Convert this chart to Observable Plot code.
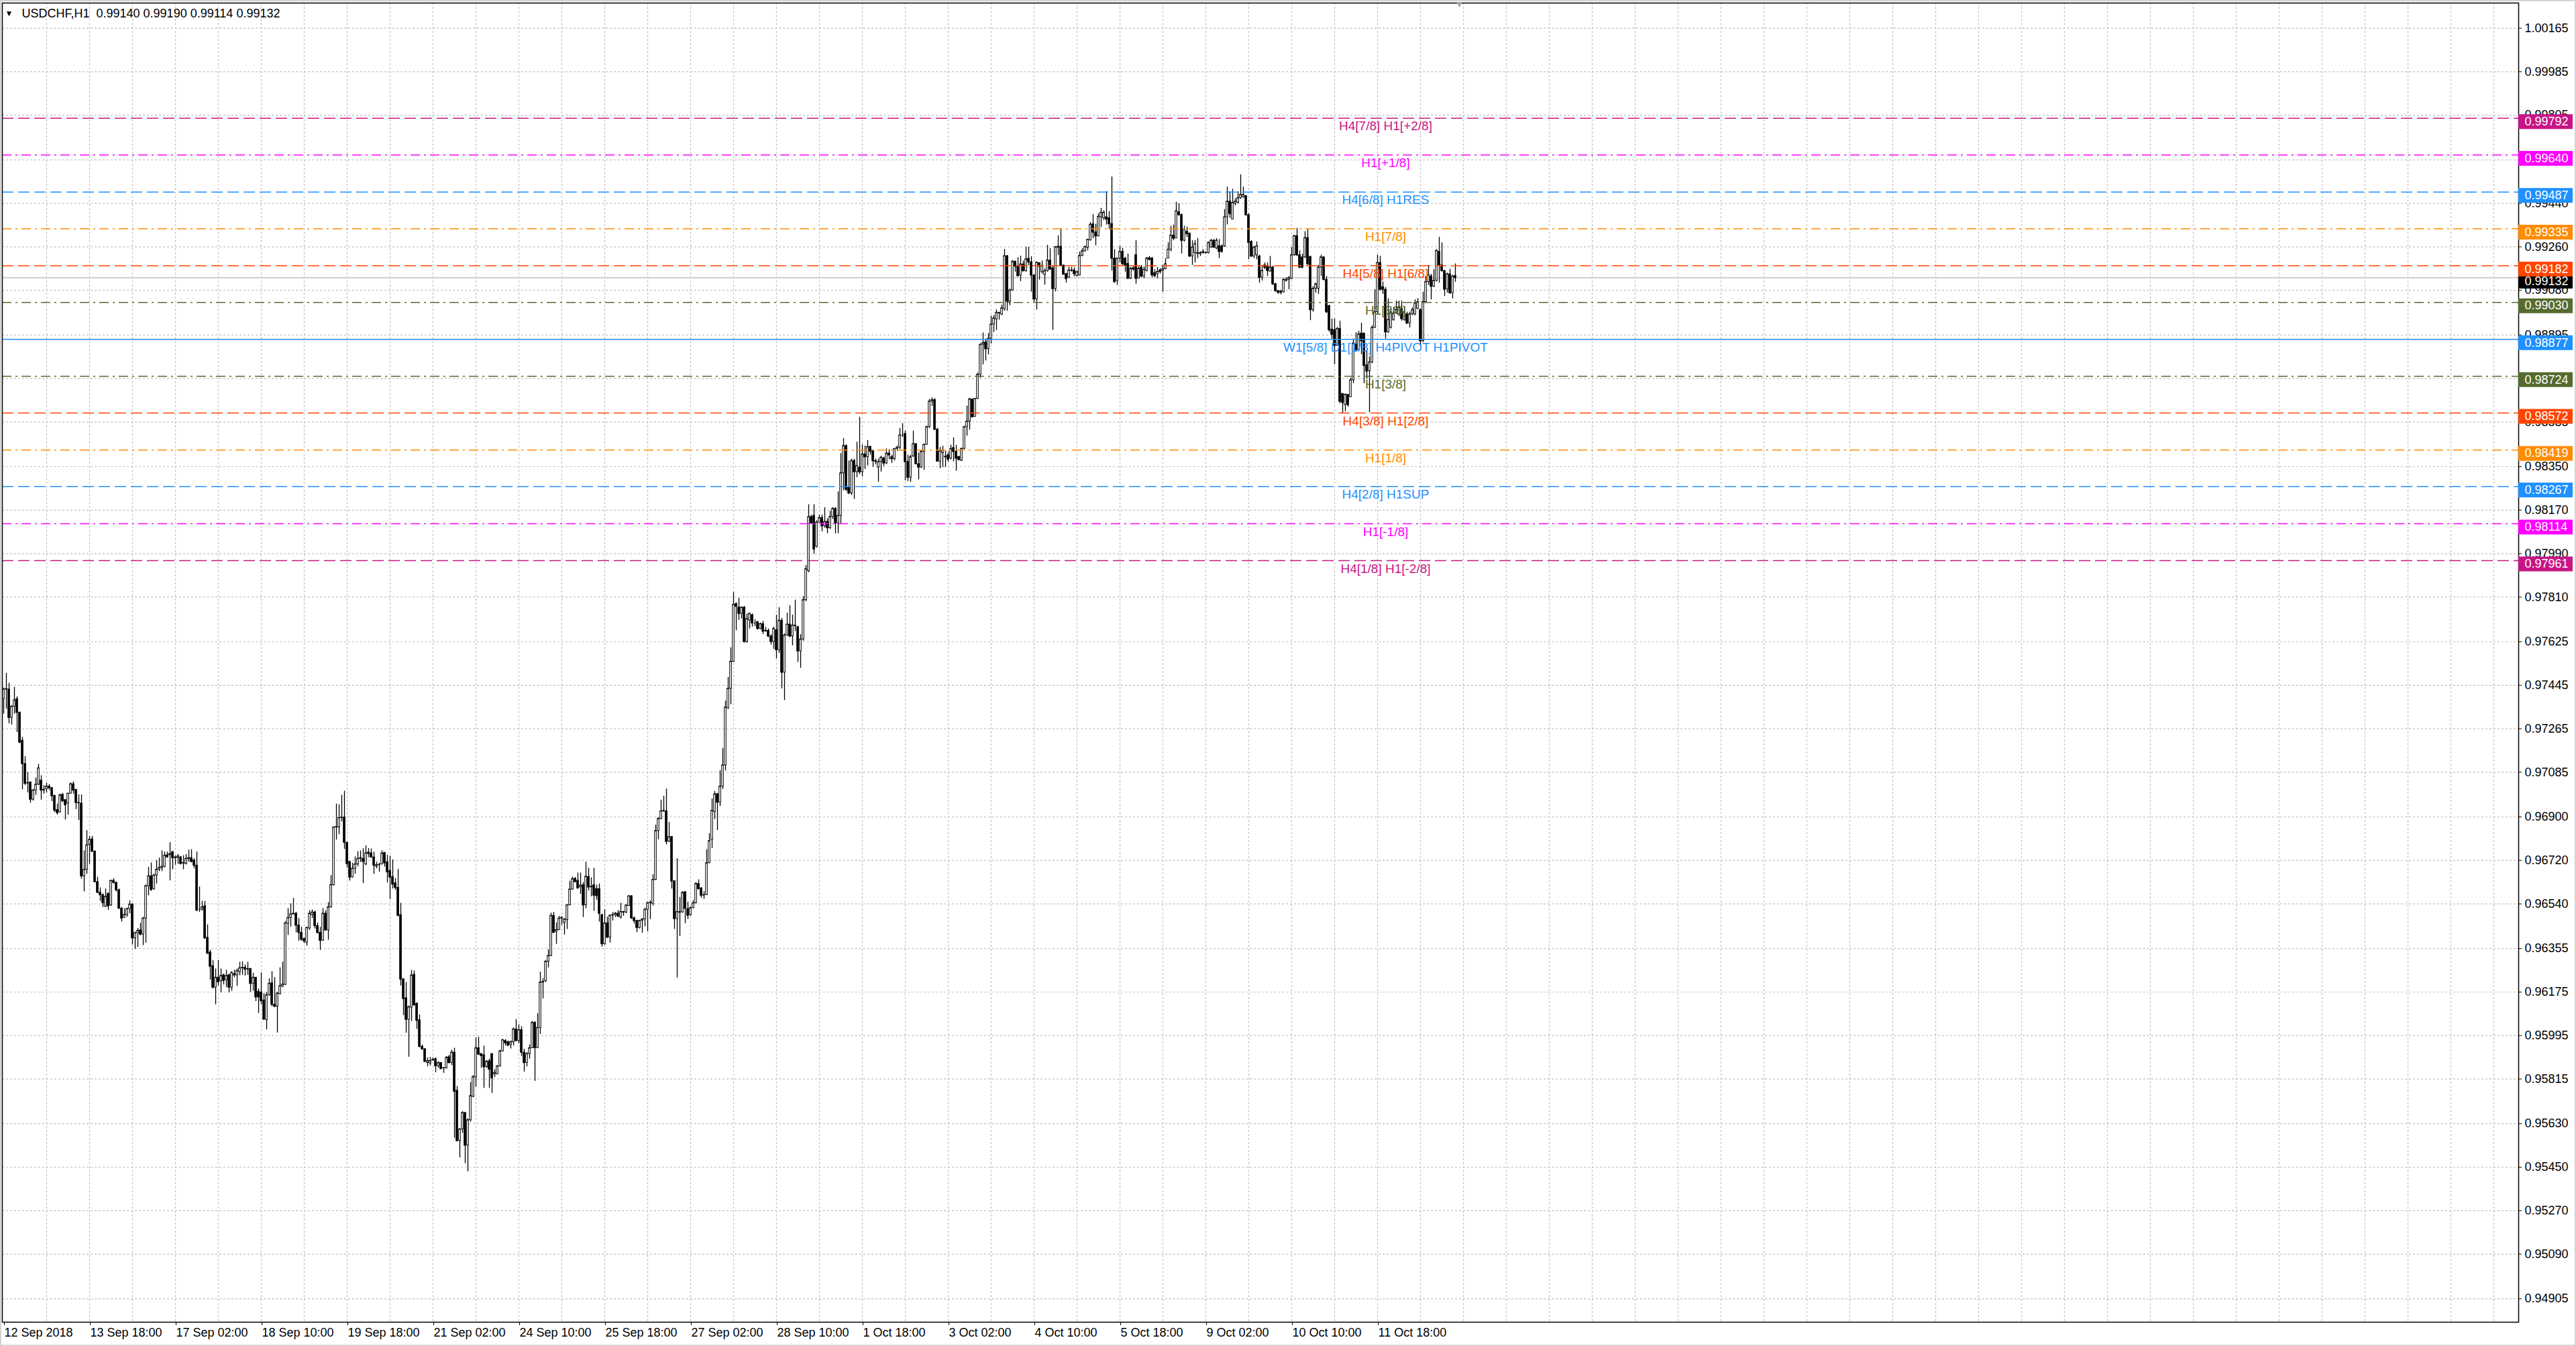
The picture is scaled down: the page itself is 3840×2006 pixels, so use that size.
<!DOCTYPE html>
<html><head><meta charset="utf-8">
<script src="https://cdn.jsdelivr.net/npm/d3@7"></script>
<script src="https://cdn.jsdelivr.net/npm/@observablehq/plot@0.6"></script>
<style>
html,body{margin:0;padding:0;background:#fff;overflow:hidden}
#chart svg{display:block;outline:2px solid #d4d4d4;outline-offset:-2px}
</style>
</head><body><div id="chart"></div>
<script>
const symbol = "USDCHF,H1";
// Hourly candles, prices in points (price x 100000), first bar 12 Sep 2018 10:00
const openPts = [
97388,97428,97428,97311,97357,97388,97332,97216,97120,97041,
97043,96972,97010,97034,97051,97010,97015,97026,97020,96988,
96929,96919,96992,96970,96956,96997,97036,97013,96959,96956,
96655,96682,96784,96808,96757,96631,96587,96577,96529,96582,
96534,96636,96628,96597,96521,96483,96495,96519,96538,96398,
96419,96431,96414,96480,96614,96655,96602,96658,96682,96689,
96694,96742,96742,96755,96730,96730,96733,96708,96706,96726,
96730,96720,96699,96518,96516,96531,96400,96339,96283,96194,
96235,96220,96245,96225,96245,96194,96250,96245,96258,96274,
96276,96269,96271,96210,96235,96177,96174,96141,96060,96162,
96212,96123,96115,96167,96199,96205,96458,96482,96497,96500,
96451,96421,96395,96380,96439,96495,96505,96449,96421,96388,
96500,96431,96526,96618,96857,96857,96896,96898,96794,96714,
96650,96686,96704,96727,96727,96704,96753,96750,96733,96695,
96701,96704,96752,96713,96677,96652,96626,96607,96494,96228,
96150,96061,96111,96247,96127,96059,95949,95939,95882,95880,
95893,95898,95869,95882,95860,95860,95906,95882,95925,95767,
95559,95607,95675,95540,95645,95742,95823,95943,95919,95914,
95865,95889,95919,95835,95835,95868,95930,95973,95968,95957,
95968,96021,95973,96018,95925,95882,95919,95943,96048,95944,
96027,96215,96220,96301,96325,96491,96425,96432,96480,96462,
96473,96535,96600,96644,96636,96609,96618,96535,96652,96609,
96618,96602,96602,96494,96374,96460,96401,96492,96494,96500,
96484,96507,96505,96532,96572,96481,96470,96441,96470,96476,
96516,96543,96541,96640,96842,96892,96924,96924,96798,96817,
96634,96478,96507,96505,96589,96519,96494,96523,96543,96623,
96605,96577,96577,96709,96805,96921,96995,96960,97026,97114,
97350,97431,97543,97782,97767,97741,97767,97625,97714,97736,
97702,97707,97679,97699,97668,97671,97648,97625,97674,97591,
97713,97498,97652,97697,97648,97693,97686,97586,97635,97798,
97918,98142,98147,98019,98119,98138,98104,98122,98096,98142,
98176,98116,98147,98323,98436,98263,98240,98374,98328,98347,
98328,98401,98390,98432,98416,98374,98347,98370,98385,98364,
98405,98390,98382,98424,98429,98480,98486,98370,98305,98393,
98444,98361,98347,98412,98441,98514,98620,98626,98504,98372,
98407,98392,98398,98384,98428,98412,98391,98375,98424,98514,
98537,98629,98557,98631,98731,98855,98865,98837,98880,98939,
98960,98985,98980,99003,99222,99034,99080,99199,99179,99142,
99188,99160,99211,99197,99142,99043,99193,99156,99145,99160,
99204,99172,99086,99257,99261,99183,99148,99133,99163,99163,
99140,99142,99223,99242,99257,99287,99354,99320,99304,99383,
99379,99383,99379,99355,99212,99119,99212,99240,99212,99190,
99129,99172,99226,99129,99175,99138,99161,99214,99212,99152,
99147,99163,99161,99168,99212,99249,99307,99295,99404,99392,
99286,99323,99316,99221,99235,99231,99231,99235,99235,99235,
99258,99286,99254,99263,99263,99263,99383,99448,99374,99439,
99443,99462,99466,99471,99392,99281,99221,99226,99221,99133,
99184,99180,99158,99175,99106,99078,99075,99073,99119,99124,
99129,99226,99305,99226,99217,99217,99297,99219,98999,99087,
99087,99175,99217,99124,99016,98918,98916,98851,98921,98652,
98606,98648,98638,98708,98856,98833,98902,98902,98770,98745,
98782,98925,98990,99194,99094,99083,98907,98925,98958,98985,
98981,99004,98958,98981,98944,98981,98981,99004,98999,98870,
99032,99115,99138,99096,99120,99240,99184,99161,99084,99147,
99069,99140];
const highPts = [
97434,97495,97454,97362,97437,97398,97335,97230,97150,97085,
97046,97015,97061,97118,97071,97030,97041,97035,97022,96990,
96954,96995,96998,96973,96997,97041,97046,97013,96992,96992,
96760,96844,96820,96820,96760,96651,96607,96582,96602,96587,
96638,96645,96631,96602,96526,96521,96523,96553,96541,96424,
96439,96460,96485,96618,96692,96710,96663,96720,96730,96760,
96755,96755,96794,96757,96740,96745,96737,96740,96745,96763,
96765,96727,96755,96610,96551,96551,96454,96349,96306,96271,
96306,96271,96250,96266,96250,96260,96266,96271,96299,96301,
96288,96299,96274,96253,96235,96189,96255,96169,96174,96230,
96260,96235,96174,96276,96299,96468,96521,96541,96563,96505,
96480,96444,96400,96444,96513,96515,96511,96461,96444,96521,
96511,96546,96658,96859,96954,96951,96990,97007,96794,96716,
96709,96735,96757,96760,96769,96781,96770,96768,96755,96713,
96709,96760,96752,96742,96738,96723,96645,96683,96543,96231,
96215,96118,96265,96263,96132,96081,95957,95941,95903,95905,
95903,95903,95887,95882,95862,95909,95914,95935,95943,95785,
95610,95681,95677,95651,95801,95830,95986,95989,95921,95952,
95893,95898,95919,95854,95871,95935,95980,95979,95973,95973,
96027,96062,96040,96032,95939,95925,95957,96054,96053,96086,
96258,96231,96306,96351,96502,96505,96462,96489,96487,96480,
96537,96634,96652,96650,96668,96668,96629,96713,96688,96648,
96688,96618,96623,96498,96516,96486,96494,96505,96505,96513,
96543,96510,96537,96575,96575,96487,96473,96473,96480,96523,
96548,96554,96661,96867,96897,96970,96986,97016,96878,96820,
96637,96728,96567,96591,96591,96548,96527,96554,96629,96640,
96607,96591,96765,96831,96975,97006,96998,97092,97184,97380,
97478,97601,97830,97787,97805,97770,97772,97741,97745,97741,
97717,97710,97703,97710,97685,97679,97655,97686,97736,97767,
97722,97659,97744,97775,97736,97798,97690,97655,97813,97941,
98193,98150,98193,98127,98150,98150,98181,98135,98166,98181,
98181,98246,98405,98467,98441,98374,98382,98382,98452,98555,
98441,98436,98459,98436,98420,98382,98382,98394,98390,98424,
98421,98398,98425,98436,98509,98529,98498,98398,98398,98498,
98446,98407,98417,98444,98518,98629,98635,98632,98509,98430,
98435,98415,98410,98440,98470,98439,98393,98428,98518,98601,
98634,98631,98633,98738,98860,98904,98879,98902,98974,98976,
98999,98990,99019,99250,99225,99086,99204,99202,99216,99222,
99202,99259,99259,99220,99144,99198,99195,99202,99170,99267,
99253,99182,99262,99306,99336,99185,99151,99176,99176,99174,
99160,99239,99253,99264,99292,99361,99394,99354,99398,99420,
99410,99489,99406,99550,99249,99212,99263,99254,99217,99231,
99175,99180,99286,99177,99184,99177,99217,99221,99217,99166,
99175,99170,99184,99212,99277,99346,99351,99445,99439,99397,
99346,99342,99316,99286,99286,99295,99240,99249,99240,99281,
99291,99291,99295,99291,99268,99415,99508,99489,99499,99460,
99489,99559,99508,99471,99397,99286,99263,99281,99226,99184,
99194,99194,99221,99180,99110,99080,99082,99129,99133,99138,
99258,99309,99337,99244,99231,99323,99332,99221,99096,99110,
99184,99226,99219,99138,99018,98962,98962,98927,98953,98652,
98652,98648,98717,98879,98905,98911,98944,98902,98833,98805,
98934,99083,99226,99221,99115,99092,99046,99009,99009,99036,
99036,99036,99009,98990,98990,99009,99041,99046,99004,99073,
99138,99184,99147,99166,99249,99300,99277,99161,99152,99168,
99143,99190];
const lowPts = [
97326,97347,97286,97281,97326,97250,97204,97013,97031,97000,
96957,96966,96990,97031,96970,96995,97000,97010,96964,96919,
96908,96917,96960,96888,96908,96995,96995,96931,96886,96643,
96590,96663,96704,96755,96628,96584,96551,96526,96526,96514,
96531,96623,96590,96519,96465,96480,96485,96500,96371,96352,
96360,96408,96368,96378,96574,96592,96597,96623,96674,96674,
96690,96730,96636,96682,96701,96704,96702,96682,96702,96713,
96710,96686,96509,96505,96511,96396,96332,96225,96189,96123,
96200,96172,96205,96194,96172,96179,96235,96199,96243,96245,
96242,96245,96174,96179,96136,96087,96123,96060,96019,96159,
96115,96113,96006,96164,96194,96203,96410,96444,96495,96421,
96386,96386,96376,96366,96431,96480,96437,96416,96348,96386,
96429,96390,96523,96615,96805,96827,96880,96766,96689,96635,
96648,96663,96694,96712,96625,96699,96732,96730,96663,96686,
96672,96702,96693,96627,96559,96602,96597,96487,96201,96078,
96005,95906,96054,96118,96021,95946,95935,95885,95866,95869,
95889,95842,95860,95855,95839,95857,95879,95871,95570,95556,
95489,95591,95465,95431,95637,95738,95782,95914,95860,95777,
95860,95777,95756,95822,95833,95865,95928,95952,95952,95940,
95952,95973,95962,95909,95844,95866,95898,95941,95806,95941,
96000,96147,96215,96275,96322,96419,96373,96430,96451,96412,
96435,96532,96597,96629,96602,96580,96484,96521,96594,96570,
96510,96556,96465,96362,96369,96398,96379,96470,96484,96484,
96478,96489,96500,96530,96476,96457,96422,96437,96419,96446,
96425,96476,96532,96637,96806,96889,96919,96785,96795,96602,
96435,96234,96405,96502,96459,96476,96489,96521,96541,96599,
96564,96559,96575,96707,96770,96890,96844,96944,97014,97091,
97346,97365,97540,97671,97714,97720,97620,97620,97679,97686,
97689,97674,97676,97656,97666,97643,97612,97594,97555,97578,
97431,97382,97648,97643,97609,97668,97540,97516,97628,97792,
97911,98111,97988,98014,98119,98081,98096,98073,98091,98132,
98073,98073,98111,98251,98248,98235,98231,98215,98305,98318,
98308,98339,98354,98398,98348,98359,98286,98328,98351,98359,
98379,98364,98374,98413,98421,98472,98292,98289,98286,98389,
98358,98296,98343,98335,98439,98509,98600,98500,98369,98342,
98347,98348,98370,98379,98371,98332,98376,98372,98421,98477,
98502,98553,98555,98629,98717,98772,98788,98814,98858,98906,
98914,98957,98976,98994,98994,99017,99077,99156,99137,99117,
99158,99156,99183,99073,99031,98999,99123,99148,99102,99156,
99165,98915,99074,99225,99179,99145,99111,99130,99156,99137,
99137,99140,99220,99239,99244,99285,99294,99265,99302,99341,
99370,99351,99332,99161,99110,99101,99194,99184,99156,99125,
99125,99160,99106,99129,99133,99129,99157,99203,99133,99133,
99129,99148,99073,99166,99212,99240,99286,99300,99388,99231,
99281,99300,99217,99184,99194,99212,99221,99230,99230,99231,
99254,99254,99249,99212,99235,99258,99351,99379,99374,99430,
99439,99457,99462,99388,99207,99217,99212,99207,99110,99119,
99166,99138,99157,99101,99073,99064,99062,99069,99115,99083,
99124,99221,99221,99170,99170,99212,99184,98955,98990,99069,
99064,99138,99120,98985,98907,98879,98773,98851,98611,98569,
98578,98597,98638,98694,98828,98828,98814,98694,98713,98574,
98777,98923,98981,99078,99064,98879,98902,98921,98953,98981,
98972,98953,98953,98939,98925,98976,98976,99001,98851,98865,
99027,99101,99041,99092,99115,99110,99156,99055,99069,99064,
99045,99114];
const closePts = [
97428,97430,97311,97357,97383,97332,97209,97120,97038,97040,
96972,97010,97034,97102,97010,97013,97026,97020,96987,96927,
96917,96990,96966,96949,96997,97036,97010,96959,96958,96655,
96682,96783,96806,96757,96631,96587,96577,96544,96570,96531,
96636,96628,96597,96521,96480,96495,96519,96538,96398,96419,
96429,96414,96480,96614,96655,96599,96658,96682,96689,96694,
96740,96733,96747,96730,96733,96737,96706,96710,96727,96730,
96715,96699,96513,96518,96526,96398,96335,96281,96194,96235,
96217,96242,96222,96242,96194,96255,96245,96263,96274,96276,
96269,96271,96210,96235,96154,96154,96138,96062,96162,96210,
96123,96115,96169,96200,96207,96460,96482,96497,96500,96451,
96421,96393,96386,96441,96500,96505,96449,96421,96388,96500,
96431,96526,96618,96857,96859,96896,96898,96794,96706,96650,
96686,96704,96727,96730,96715,96750,96748,96733,96699,96701,
96702,96749,96709,96672,96650,96621,96607,96492,96228,96147,
96061,96113,96244,96121,96057,95949,95939,95887,95890,95890,
95895,95869,95882,95857,95861,95903,95882,95925,95763,95559,
95607,95675,95540,95645,95745,95823,95943,95917,95911,95865,
95887,95855,95819,95841,95868,95930,95976,95964,95954,95968,
96021,95973,96018,95925,95882,95919,95943,96048,95944,96027,
96215,96218,96301,96325,96491,96421,96432,96480,96483,96476,
96535,96600,96643,96631,96605,96616,96535,96653,96609,96612,
96575,96573,96500,96374,96460,96401,96492,96494,96500,96489,
96507,96505,96534,96572,96481,96470,96441,96470,96476,96516,
96543,96545,96640,96842,96892,96924,96926,96798,96817,96634,
96478,96507,96505,96586,96521,96492,96523,96543,96623,96602,
96575,96576,96709,96801,96926,96994,96960,97026,97114,97354,
97431,97543,97779,97771,97741,97767,97625,97720,97741,97702,
97702,97679,97699,97668,97671,97648,97625,97679,97591,97713,
97498,97652,97697,97648,97693,97691,97586,97635,97798,97926,
98142,98116,98008,98119,98138,98104,98122,98096,98142,98176,
98116,98147,98323,98436,98255,98240,98374,98328,98354,98328,
98401,98390,98432,98413,98374,98371,98370,98388,98364,98405,
98398,98382,98424,98429,98480,98480,98370,98305,98390,98444,
98361,98347,98412,98441,98514,98620,98626,98504,98372,98415,
98417,98390,98380,98424,98412,98384,98378,98424,98514,98537,
98629,98555,98631,98731,98855,98862,98837,98880,98939,98964,
98988,98987,99006,99222,99034,99080,99199,99179,99139,99188,
99160,99209,99197,99142,99043,99195,99179,99182,99160,99204,
99167,99086,99259,99261,99183,99146,99128,99163,99162,99148,
99156,99223,99242,99260,99290,99352,99320,99304,99385,99402,
99402,99374,99355,99212,99115,99212,99240,99189,99184,99129,
99170,99167,99129,99170,99138,99166,99212,99207,99143,99140,
99157,99157,99168,99189,99249,99307,99295,99408,99392,99286,
99332,99314,99221,99258,99272,99235,99235,99240,99236,99277,
99286,99258,99286,99240,99240,99383,99448,99397,99443,99448,
99462,99476,99476,99392,99277,99221,99258,99263,99133,99161,
99175,99161,99175,99106,99078,99071,99071,99124,99124,99131,
99226,99305,99226,99175,99175,99297,99189,98999,99087,99106,
99175,99217,99124,98990,98916,98897,98851,98921,98620,98615,
98648,98606,98708,98861,98833,98898,98870,98768,98745,98782,
98925,98990,99194,99083,99083,98907,98958,98990,98985,98999,
99009,98962,98990,98944,98981,98999,99027,99032,98870,99032,
99115,99143,99096,99120,99244,99184,99161,99084,99147,99069,
99138,99132];

const xLabels = ["12 Sep 2018","13 Sep 18:00","17 Sep 02:00","18 Sep 10:00","19 Sep 18:00",
  "21 Sep 02:00","24 Sep 10:00","25 Sep 18:00","27 Sep 02:00","28 Sep 10:00","1 Oct 18:00",
  "3 Oct 02:00","4 Oct 10:00","5 Oct 18:00","9 Oct 02:00","10 Oct 10:00","11 Oct 18:00"];
const yTicks = [1.00165,0.99985,0.99805,0.99620,0.99440,0.99260,0.99080,0.98895,0.98715,0.98535,
  0.98350,0.98170,0.97990,0.97810,0.97625,0.97445,0.97265,0.97085,0.96900,0.96720,0.96540,
  0.96355,0.96175,0.95995,0.95815,0.95630,0.95450,0.95270,0.95090,0.94905];

const levelValues = [0.99792,0.99640,0.99487,0.99335,0.99182,0.99030,0.98877,0.98724,0.98572,0.98419,0.98267,0.98114,0.97961];
const levelNames = ["H4[7/8] H1[+2/8]","H1[+1/8]","H4[6/8] H1RES","H1[7/8]","H4[5/8] H1[6/8]","H1[5/8]",
  "W1[5/8] D1[1/8] H4PIVOT H1PIVOT","H1[3/8]","H4[3/8] H1[2/8]","H1[1/8]","H4[2/8] H1SUP","H1[-1/8]","H4[1/8] H1[-2/8]"];
const levelColors = ["#C71585","#FF00FF","#1E90FF","#FF8C00","#FF4500","#556B2F","#1E90FF","#556B2F","#FF4500","#FF8C00","#1E90FF","#FF00FF","#C71585"];
const levelStyles = ["dash","dashdot","dash","dashdot","dash","dashdot","solid","dashdot","dash","dashdot","dash","dashdot","dash"];

// ---- build ----
const bars = openPts.map((o, i) => ({i, o: o/1e5, h: highPts[i]/1e5, l: lowPts[i]/1e5, c: closePts[i]/1e5}));
const last = bars[bars.length - 1];
const levels = levelValues.map((v, k) => ({value: v, name: levelNames[k], color: levelColors[k], style: levelStyles[k]}));
const fmt = v => v.toFixed(5);

const W = 3840, H = 2006, mL = 3, mR = 86, mT = 4, mB = 36;
const barPx = 4;                       // chart scale: pixels per bar
const xMin = -0.5, xMax = xMin + (W - mL - mR) / barPx;
const labelEvery = 32, gridEvery = 16;
const xTicks = xLabels.map((_, k) => k * labelEvery);
const gridBars = d3.range(gridEvery, xMax, gridEvery);
const labelBar = 515;                  // bar where the level captions are centred
const shiftBar = bars.length + 0.5;    // chart-shift marker
const boxW = 81 / barPx;
const half = 0.32;
const font = "'Liberation Sans', Arial, sans-serif";

const chart = Plot.plot({
  width: W, height: H,
  marginLeft: mL, marginRight: mR, marginTop: mT, marginBottom: mB,
  style: {fontFamily: font, background: "#fff", color: "#000"},
  x: {type: "linear", domain: [xMin, xMax], axis: null},
  y: {type: "linear", domain: [0.948083, 1.002694], axis: null},
  marks: [
    Plot.ruleY(yTicks, {stroke: "#c0c0c0", strokeWidth: 1.2, strokeDasharray: "3,3"}),
    Plot.ruleX(gridBars, {stroke: "#c0c0c0", strokeWidth: 1.2, strokeDasharray: "3,3"}),
    Plot.ruleY([last.c], {stroke: "#c0c0c0", strokeWidth: 1.5}),
    Plot.ruleX(bars, {x: "i", y1: "l", y2: "h", stroke: "#000", strokeWidth: 1.3}),
    Plot.rect(bars, {x1: d => d.i - half, x2: d => d.i + half, y1: "o", y2: "c",
      fill: d => d.c >= d.o ? "#fff" : "#000", stroke: "#000", strokeWidth: 1}),
    Plot.ruleY(bars, {y: "c", x1: d => d.i - half, x2: d => d.i + half, stroke: "#000", strokeWidth: 1}),
    Plot.ruleY(levels.filter(d => d.style === "dash"), {y: "value", stroke: "color", strokeWidth: 1.5, strokeDasharray: "17,7"}),
    Plot.ruleY(levels.filter(d => d.style === "dashdot"), {y: "value", stroke: "color", strokeWidth: 1.5, strokeDasharray: "14,6,3,6"}),
    Plot.ruleY(levels.filter(d => d.style === "solid"), {y: "value", stroke: "color", strokeWidth: 1.5}),
    Plot.text(levels, {x: () => labelBar, y: "value", text: "name", fill: "color", dy: 12,
      fontSize: 19, textAnchor: "middle", lineAnchor: "middle"}),
    Plot.frame({stroke: "#000", strokeWidth: 1.5}),
    Plot.axisY({anchor: "right", ticks: yTicks, tickFormat: fmt, tickSize: 4, tickPadding: 5,
      fontSize: 18, label: null, textAnchor: "start"}),
    Plot.axisX({anchor: "bottom", ticks: xTicks, tickFormat: d => xLabels[xTicks.indexOf(d)],
      tickSize: 5, tickPadding: 4, fontSize: 18, label: null, textAnchor: "start", dx: 1}),
    Plot.ruleY([last.c], {x1: xMax, x2: xMax + boxW, stroke: "#000", strokeWidth: 22, dy: 5}),
    Plot.text([last.c], {x: xMax, y: d => d, text: fmt, dx: 9, dy: 5, textAnchor: "start", fill: "#fff", fontSize: 18}),
    Plot.ruleY(levels, {y: "value", x1: xMax, x2: xMax + boxW, stroke: "color", strokeWidth: 22, dy: 5}),
    Plot.text(levels, {x: xMax, y: "value", text: d => fmt(d.value), dx: 9, dy: 5, textAnchor: "start", fill: "#fff", fontSize: 18}),
    Plot.text(["\u25BC"], {frameAnchor: "top-left", dx: 10, dy: 16, fontSize: 12, textAnchor: "middle", lineAnchor: "middle"}),
    Plot.text([`${symbol}\u00a0\u00a0${fmt(last.o)} ${fmt(last.h)} ${fmt(last.l)} ${fmt(last.c)}`],
      {frameAnchor: "top-left", dx: 29, dy: 16, fontSize: 18, textAnchor: "start", lineAnchor: "middle"}),
    Plot.text(["\u25BC"], {x: () => shiftBar, frameAnchor: "top", dy: -3, fontSize: 13, fill: "#a0a0a0", lineAnchor: "top"})
  ]
});
document.getElementById("chart").appendChild(chart);
</script></body></html>
